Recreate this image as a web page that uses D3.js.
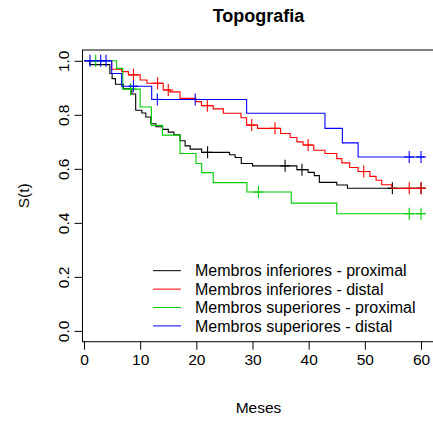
<!DOCTYPE html>
<html>
<head>
<meta charset="utf-8">
<script src="https://cdn.jsdelivr.net/npm/d3@7/dist/d3.min.js"></script>
<style>
  body { margin: 0; background: #fff; }
  text { font-family: "Liberation Sans", Arial, Helvetica, sans-serif; fill: #000; }
</style>
</head>
<body>
<script>
// legend names
var seriesNames = ["Membros inferiores - proximal", "Membros inferiores - distal",
                   "Membros superiores - proximal", "Membros superiores - distal"];
var seriesColors = ["#000000", "#ff0000", "#00cd00", "#0000ff"];

// Kaplan-Meier steps (months, S(t))
var infProxTimes = [0, 1, 4.6, 5.0, 5.6, 7.0, 8.5, 9.2, 10.3, 11.0, 11.9, 12.8, 14.0, 15.0, 16.0, 17.1, 18.0, 18.9, 20.95, 25.9, 26.9, 28.0, 30.0, 37.9, 39.9, 41.0, 41.9, 45.0, 46.9];
var infProxSurv  = [1, 0.986, 0.953, 0.934, 0.913, 0.897, 0.877, 0.817, 0.807, 0.792, 0.767, 0.756, 0.746, 0.736, 0.726, 0.704, 0.685, 0.673, 0.661, 0.652, 0.642, 0.62, 0.611, 0.597, 0.587, 0.575, 0.55, 0.54, 0.528];
var infProxCens  = [22, 35.8, 38.8, 54.9, 60];

var infDistTimes = [0, 4.93, 6.7, 7.9, 10.0, 11.2, 14.1, 15.3, 17.1, 19.9, 20.9, 23.0, 24.8, 27.95, 28.95, 30.9, 35.0, 36.7, 37.9, 39.0, 40.9, 42.9, 45.0, 45.9, 47.3, 48.8, 50.9, 52.0, 53.0, 54.8];
var infDistSurv  = [1, 0.969, 0.96, 0.948, 0.929, 0.917, 0.892, 0.885, 0.861, 0.849, 0.834, 0.822, 0.806, 0.789, 0.762, 0.75, 0.731, 0.716, 0.70, 0.688, 0.669, 0.657, 0.638, 0.622, 0.605, 0.59, 0.572, 0.558, 0.541, 0.528];
var infDistCens  = [8.8, 13.1, 15.0, 21.95, 29.85, 34.0, 39.9, 49.8, 57.9, 60];

var supProxTimes = [0, 5.8, 6.9, 10.0, 12.0, 13.95, 17.1, 19.94, 20.95, 23.0, 29.0, 36.9, 45.0];
var supProxSurv  = [1, 0.972, 0.895, 0.829, 0.761, 0.725, 0.657, 0.62, 0.586, 0.549, 0.514, 0.473, 0.434];
var supProxCens  = [2.08, 8.3, 31.05, 57.9, 60];

var supDistTimes = [0, 4.93, 6.7, 12.05, 28.95, 42.9, 46.0, 48.8];
var supDistSurv  = [1, 0.953, 0.906, 0.857, 0.806, 0.75, 0.696, 0.644];
var supDistCens  = [1.07, 2.97, 3.92, 8.8, 13.05, 19.8, 57.9, 60];

var endTime = 60.6;
var xTicks = [0, 10, 20, 30, 40, 50, 60];
var yTicks = [0, 0.2, 0.4, 0.6, 0.8, 1.0];

var width = 433, height = 423;
var plot = {left: 82.5, right: 434.5, top: 50, bottom: 341.7};

var x = d3.scaleLinear().domain([-0.27, 62.4]).range([plot.left, plot.right]);
var y = d3.scaleLinear().domain([-0.04, 1.04]).range([plot.bottom, plot.top]);

var svg = d3.select("body").append("svg")
    .attr("width", width)
    .attr("height", height);

// frame
svg.append("rect")
    .attr("x", plot.left).attr("y", plot.top)
    .attr("width", plot.right - plot.left)
    .attr("height", plot.bottom - plot.top)
    .attr("fill", "none")
    .attr("stroke", "#000")
    .attr("stroke-width", 1);

// x axis
var gx = svg.append("g")
    .attr("transform", "translate(0," + plot.bottom + ")")
    .call(d3.axisBottom(x).tickValues(xTicks).tickSize(8).tickFormat(d3.format("d")));
gx.select(".domain").remove();
gx.selectAll("line").attr("stroke", "#000");
gx.selectAll("text")
    .attr("y", 23.3).attr("dy", null)
    .style("font-size", "15.5px");

// y axis
var gy = svg.append("g")
    .attr("transform", "translate(" + plot.left + ",0)")
    .call(d3.axisLeft(y).tickValues(yTicks).tickSize(8).tickFormat(d3.format(".1f")));
gy.select(".domain").remove();
gy.selectAll("line").attr("stroke", "#000");
gy.selectAll("text")
    .attr("x", null).attr("dy", null)
    .attr("text-anchor", "middle")
    .attr("transform", "translate(-14,0) rotate(-90)")
    .style("font-size", "15.5px");

// labels
svg.append("text")
    .attr("x", (plot.left + plot.right) / 2)
    .attr("y", 22)
    .attr("text-anchor", "middle")
    .style("font-size", "18px")
    .style("font-weight", "bold")
    .text("Topografia");

svg.append("text")
    .attr("x", (plot.left + plot.right) / 2)
    .attr("y", 413)
    .attr("text-anchor", "middle")
    .style("font-size", "15.5px")
    .text("Meses");

svg.append("text")
    .attr("transform", "translate(29," + ((plot.top + plot.bottom) / 2) + ") rotate(-90)")
    .attr("text-anchor", "middle")
    .style("font-size", "15.5px")
    .text("S(t)");

// curves
var series = [
  {times: infProxTimes, surv: infProxSurv, cens: infProxCens},
  {times: infDistTimes, surv: infDistSurv, cens: infDistCens},
  {times: supProxTimes, surv: supProxSurv, cens: supProxCens},
  {times: supDistTimes, surv: supDistSurv, cens: supDistCens}
];

var line = d3.line()
    .curve(d3.curveStepAfter)
    .x(function(d) { return x(d[0]); })
    .y(function(d) { return y(d[1]); });

function survAt(s, t) {
  var v = 1;
  for (var i = 0; i < s.times.length; i++) {
    if (s.times[i] <= t) v = s.surv[i];
  }
  return v;
}

series.forEach(function(s, i) {
  var pts = s.times.map(function(t, j) { return [t, s.surv[j]]; });
  pts.push([endTime, s.surv[s.surv.length - 1]]);
  svg.append("path")
      .datum(pts)
      .attr("fill", "none")
      .attr("stroke", seriesColors[i])
      .attr("stroke-width", 1.1)
      .attr("d", line);

  // censoring marks (+)
  var marks = svg.append("g").attr("stroke", seriesColors[i]).attr("stroke-width", 1.1);
  s.cens.forEach(function(t) {
    var cx = x(t), cy = y(survAt(s, t));
    marks.append("line").attr("x1", cx - 5).attr("x2", cx + 5).attr("y1", cy).attr("y2", cy);
    marks.append("line").attr("x1", cx).attr("x2", cx).attr("y1", cy - 6).attr("y2", cy + 6);
  });
});

// legend
var legend = svg.append("g");
seriesNames.forEach(function(name, i) {
  var ly = 270.7 + i * 18.4;
  legend.append("line")
      .attr("x1", 153).attr("x2", 181)
      .attr("y1", ly).attr("y2", ly)
      .attr("stroke", seriesColors[i])
      .attr("stroke-width", 1);
  legend.append("text")
      .attr("x", 195)
      .attr("y", ly + 5.6)
      .style("font-size", "16px")
      .text(name);
});
</script>
</body>
</html>
